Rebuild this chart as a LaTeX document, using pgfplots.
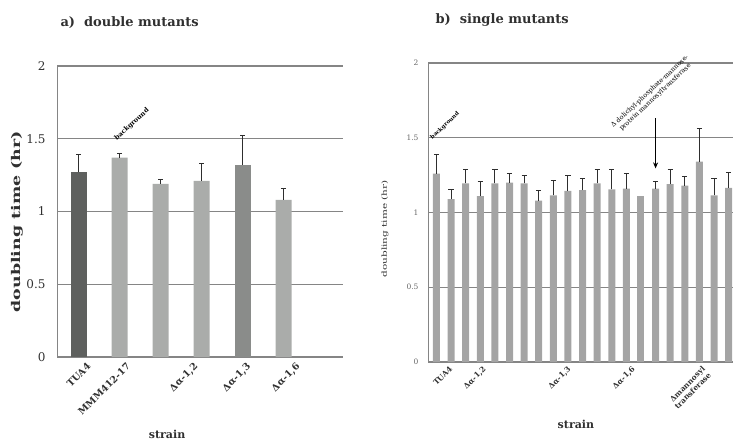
\documentclass[border=0pt]{standalone}
\usepackage{fontspec}
\setmainfont{DejaVu Serif}
\usepackage{graphicx}
\usepackage{pgfplots}
\pgfplotsset{compat=1.18}
\usepackage{pgfplotstable}
\usetikzlibrary{arrows.meta}

\definecolor{gridc}{HTML}{858585}
\definecolor{darkbar}{HTML}{5E605E}
\definecolor{midbar}{HTML}{8A8C8A}
\definecolor{lightbar}{HTML}{AAACAA}
\definecolor{sbar}{HTML}{A4A4A4}
\definecolor{errc}{HTML}{2E2E2E}
\definecolor{txt}{HTML}{303030}

% double mutants
\pgfplotstableread{
x y e
0 1.27 0.12
}\dblA
\pgfplotstableread{
x y e
4 1.32 0.20
}\dblB
\pgfplotstableread{
x y e
1 1.37 0.03
2 1.19 0.03
3 1.21 0.12
5 1.08 0.08
}\dblC

% single mutants
\pgfplotstableread{
x y e
0 1.26 0.13
1 1.09 0.065
2 1.195 0.09
3 1.11 0.10
4 1.195 0.09
5 1.20 0.06
6 1.195 0.055
7 1.08 0.065
8 1.115 0.10
9 1.145 0.105
10 1.15 0.075
11 1.195 0.095
12 1.155 0.135
13 1.16 0.10
15 1.16 0.05
16 1.19 0.10
17 1.18 0.06
18 1.34 0.225
19 1.115 0.11
20 1.165 0.10
}\sngA
\pgfplotstableread{
x y
14 1.11
}\sngB

\pgfplotsset{
  myax/.style={
    scale only axis, ymin=0, ymax=2, ytick={0,0.5,1,1.5,2},
    ymajorgrids, grid style={gridc, line width=1.2pt},
    axis x line*=bottom, axis y line*=left,
    axis line style={gridc, line width=1pt, -},
    xtick style={draw=none}, ytick style={draw=none},
    /pgf/number format/assume math mode=true,
    clip=false,
    xticklabel style={rotate=45, anchor=north east, text=txt, inner sep=1pt},
  },
  errs/.style={error bars/.cd, y dir=plus, y explicit,
    error bar style={line width=#1, color=errc},
    error mark options={rotate=90, line width=#1, mark size=2.6pt, color=errc}},
}

\begin{document}
\begin{tikzpicture}
\useasboundingbox (0,0) rectangle (733pt,442pt);

% ---------- a) double mutants ----------
\begin{axis}[myax,
  at={(57pt,85pt)}, anchor=south west,
  width=286pt, height=291pt,
  xmin=-0.53, xmax=6.45,
  xtick={0.1,1.06,2.71,4.0,5.2},
  xticklabels={TUA4, MMM412-17, {Δα-1,2}, {Δα-1,3}, {Δα-1,6}},
  xticklabel style={font=\fontsize{9.5}{10}\selectfont\bfseries, yshift=-5pt},
  yticklabel style={font=\fontsize{12}{13}\selectfont, text=txt, xshift=-8pt},
  ylabel={\scalebox{1.45}[1]{doubling time (hr)}},
  ylabel style={font=\fontsize{12}{13}\selectfont\bfseries, text=txt, at={(axis description cs:-0.14,0.465)}, anchor=center},
  xlabel={strain},
  xlabel style={font=\fontsize{11}{12}\selectfont\bfseries, text=txt, at={(axis description cs:0.385,-0.265)}, anchor=center},
]
\addplot[ybar, bar width=16pt, bar shift=0pt, fill=darkbar, draw=none, errs=1.3pt] table[x=x,y=y,y error=e]{\dblA};
\addplot[ybar, bar width=16pt, bar shift=0pt, fill=midbar, draw=none, errs=1.3pt] table[x=x,y=y,y error=e]{\dblB};
\addplot[ybar, bar width=16pt, bar shift=0pt, fill=lightbar, draw=none, errs=1.3pt] table[x=x,y=y,y error=e]{\dblC};
\node[rotate=42, font=\fontsize{6.5}{7}\selectfont\bfseries] at (axis cs:1.3,1.60) {background};
\node[font=\fontsize{13}{14}\selectfont\bfseries, text=txt, anchor=west] at (axis description cs:0.0,1.148) {a)~~double mutants};
\end{axis}

% ---------- b) single mutants ----------
\begin{axis}[myax,
  at={(428pt,80pt)}, anchor=south west,
  width=305pt, height=299pt,
  xmin=-0.58, xmax=20.3,
  xtick={0.7,3.0,8.8,13.2,18.0},
  xticklabels={TUA4, {Δα-1,2}, {Δα-1,3}, {Δα-1,6}, {Δmannosyl\\transferase}},
  xticklabel style={font=\fontsize{7.5}{8.5}\selectfont\bfseries, align=right, yshift=-3pt},
  yticklabel style={font=\fontsize{7.5}{8}\selectfont, text=black!60, xshift=-6pt},
  ylabel={\scalebox{1.5}[1]{doubling time (hr)}},
  ylabel style={font=\fontsize{7}{8}\selectfont, text=txt, at={(axis description cs:-0.141,0.445)}, anchor=center},
  xlabel={strain},
  xlabel style={font=\fontsize{11}{12}\selectfont\bfseries, text=txt, at={(axis description cs:0.485,-0.21)}, anchor=center},
]
\addplot[ybar, bar width=7pt, bar shift=0pt, fill=sbar, draw=none, errs=1pt] table[x=x,y=y,y error=e]{\sngA};
\addplot[ybar, bar width=7pt, bar shift=0pt, fill=sbar, draw=none] table[x=x,y=y]{\sngB};
\node[rotate=43, font=\fontsize{5.5}{6}\selectfont\bfseries] at (axis cs:0.58,1.58) {background};
\node[rotate=43, font=\fontsize{6.5}{8}\selectfont, align=center] at (axis cs:14.8,1.79) {Δ dolichyl-phosphate-mannose-\\protein mannosyltransferase};
\draw[-{Stealth[length=6pt,width=5pt]}, line width=1pt] (axis cs:15,1.63) -- (axis cs:15,1.295);
\node[font=\fontsize{13}{14}\selectfont\bfseries, text=txt, anchor=west] at (axis description cs:0.013,1.144) {b)~~single mutants};
\end{axis}
\end{tikzpicture}
\end{document}
